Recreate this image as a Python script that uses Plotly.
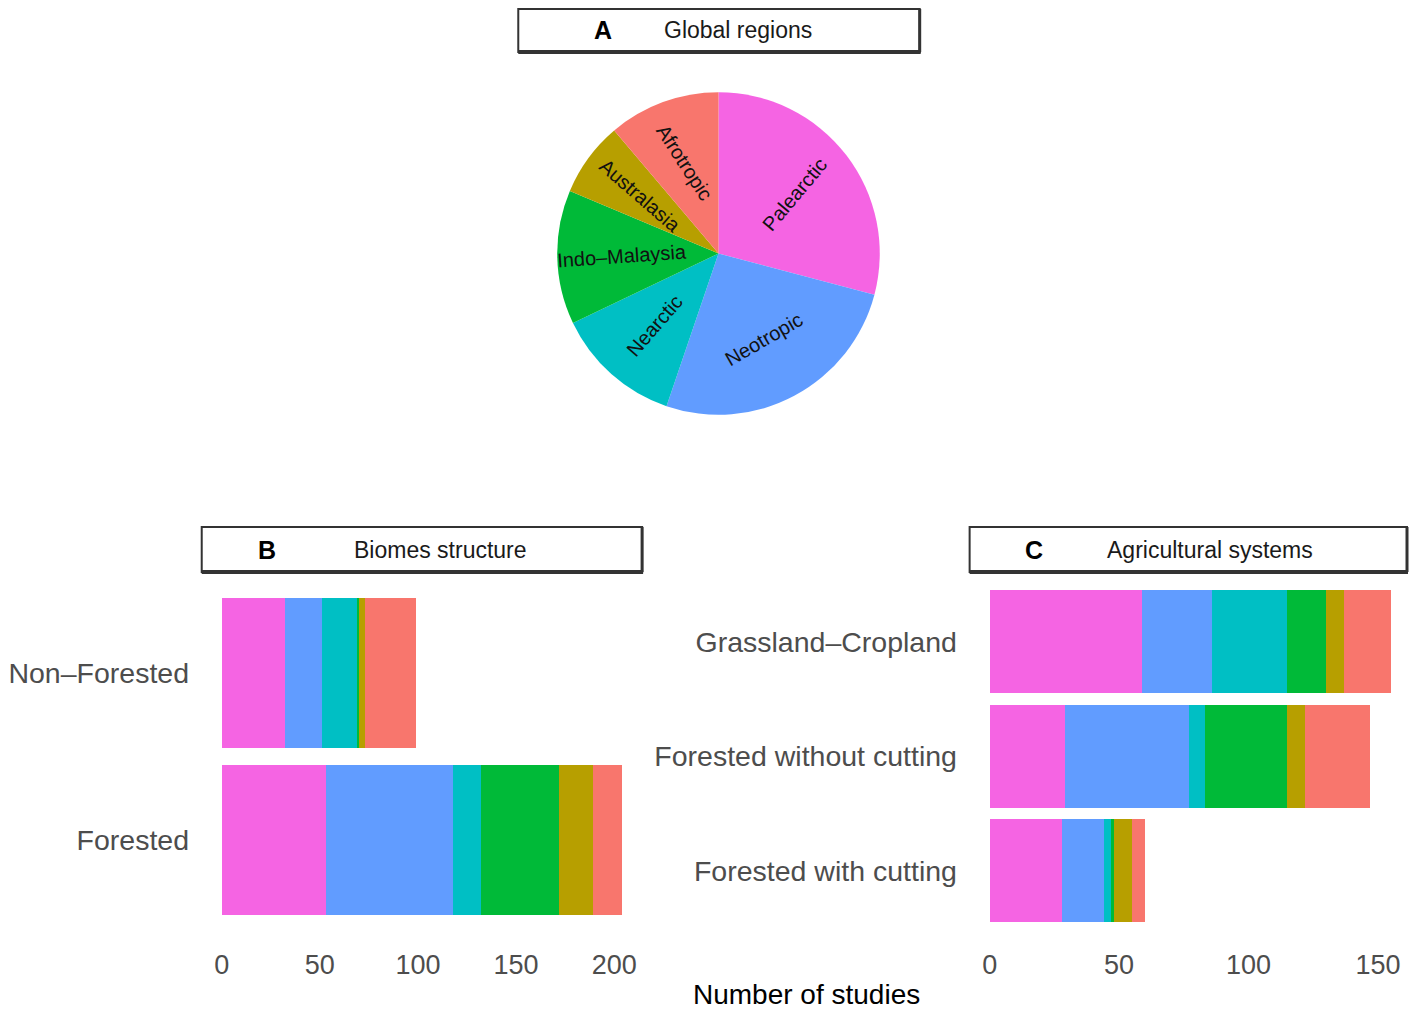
import math
import plotly.graph_objects as go

# ---------------- data ----------------
regions = ["Palearctic", "Neotropic", "Nearctic", "Indo–Malaysia", "Australasia", "Afrotropic"]
region_colors = ["#F564E3", "#619CFF", "#00BFC4", "#00BA38", "#B79F00", "#F8766D"]

pie_counts = [39, 35, 17, 18, 10, 15]

biome_categories = ["Forested", "Non–Forested"]          # bottom -> top
biome_forested = [53, 65, 14, 40, 17, 15]
biome_nonforested = [32, 19, 18, 1, 3, 26]

agri_categories = ["Forested with cutting", "Forested without cutting", "Grassland–Cropland"]  # bottom -> top
agri_with_cutting = [28, 16, 3, 1, 7, 5]
agri_without_cutting = [29, 48, 6, 32, 7, 25]
agri_grassland = [59, 27, 29, 15, 7, 18]

x_ticks_b = [0, 50, 100, 150, 200]
x_ticks_c = [0, 50, 100, 150]

# ---------------- layout constants ----------------
WIN_W, WIN_H = 1417, 1018
BODY = 8                      # default page margin around the figure
W, H = WIN_W - 2 * BODY, WIN_H - 2 * BODY
FONT = "Liberation Sans, Arial, Helvetica, sans-serif"
TICK_COLOR = "#4D4D4D"

def px_x(p):
    return min(1.0, max(0.0, (p - BODY) / W))

def px_y(p):
    return min(1.0, max(0.0, 1 - (p - BODY) / H))

pie_cx, pie_cy, pie_r = 717.5, 253.5, 161.5
label_r = 0.6 * pie_r
pie_label_angles = [-50, -30, -49, -4, 41, 57]   # style: text rotation of each slice label

fig = go.Figure()

# ---------------- pie (A) ----------------
fig.add_trace(go.Pie(
    labels=regions,
    values=pie_counts,
    marker=dict(colors=region_colors, line=dict(width=0)),
    sort=False,
    direction="clockwise",
    rotation=0,
    textinfo="none",
    hoverinfo="label+value",
    showlegend=False,
    domain=dict(x=[px_x(pie_cx - pie_r), px_x(pie_cx + pie_r)],
                y=[px_y(pie_cy + pie_r), px_y(pie_cy - pie_r)]),
))

total = sum(pie_counts)
cum = 0
annotations = []
for name, v, ang in zip(regions, pie_counts, pie_label_angles):
    mid = (cum + v / 2) / total * 2 * math.pi
    cum += v
    lx = pie_cx + label_r * math.sin(mid)
    ly = pie_cy - label_r * math.cos(mid)
    annotations.append(dict(
        x=px_x(lx), y=px_y(ly), xref="paper", yref="paper",
        text=name, showarrow=False, textangle=ang,
        font=dict(family=FONT, size=20, color="#111111"),
        xanchor="center", yanchor="middle",
    ))

# ---------------- bars (B) ----------------
for i, name in enumerate(regions):
    fig.add_trace(go.Bar(
        y=biome_categories,
        x=[biome_forested[i], biome_nonforested[i]],
        orientation="h",
        marker=dict(color=region_colors[i], line=dict(width=0)),
        name=name, showlegend=False,
        xaxis="x", yaxis="y",
    ))

# ---------------- bars (C) ----------------
for i, name in enumerate(regions):
    fig.add_trace(go.Bar(
        y=agri_categories,
        x=[agri_with_cutting[i], agri_without_cutting[i], agri_grassland[i]],
        orientation="h",
        marker=dict(color=region_colors[i], line=dict(width=0)),
        name=name, showlegend=False,
        xaxis="x2", yaxis="y2",
    ))

panel_top, panel_bottom = 573, 939.5
b_left, b_right = 200, 641
c_left, c_right = 969, 1409

common_x = dict(showgrid=False, zeroline=False, showline=False,
                ticks="outside", ticklen=1, tickcolor="rgba(0,0,0,0)",
                tickfont=dict(family=FONT, size=27, color=TICK_COLOR),
                fixedrange=True)
common_y = dict(showgrid=False, zeroline=False, showline=False,
                ticks="outside", ticklen=6, tickcolor="rgba(0,0,0,0)",
                tickfont=dict(family=FONT, size=28.5, color=TICK_COLOR),
                type="category", fixedrange=True)

fig.update_layout(
    width=W, height=H,
    margin=dict(l=0, r=0, t=0, b=0),
    paper_bgcolor="white", plot_bgcolor="white",
    barmode="stack", bargap=0.1,
    xaxis=dict(domain=[px_x(b_left), px_x(b_right)], range=[-10.2, 214.2],
               tickvals=x_ticks_b, anchor="y", **common_x),
    yaxis=dict(domain=[px_y(panel_bottom), px_y(panel_top)], range=[-0.6, 1.6],
               categoryorder="array", categoryarray=biome_categories,
               anchor="x", **common_y),
    xaxis2=dict(domain=[px_x(c_left), px_x(c_right)], range=[-7.75, 162.0],
                tickvals=x_ticks_c, anchor="y2", **common_x),
    yaxis2=dict(domain=[px_y(panel_bottom), px_y(panel_top)], range=[-0.6, 2.6],
                categoryorder="array", categoryarray=agri_categories,
                anchor="x2", **common_y),
    font=dict(family=FONT),
)

# ---------------- title strips ----------------
shapes = []
strips = [
    # (left, right, top, bottom, letter, letter_x, title, title_x)
    (517, 919, 9, 52, "A", 602, "Global regions", 737),
    (200, 641, 527, 572, "B", 265, "Biomes structure", 439),
    (969, 1407, 527, 572, "C", 1033, "Agricultural systems", 1209.5),
]
for l, r, t, b, letter, lx, title, tx in strips:
    shapes.append(dict(type="rect", xref="paper", yref="paper",
                       x0=px_x(l), x1=px_x(r), y0=px_y(b), y1=px_y(t),
                       line=dict(color="#333333", width=2), fillcolor="white", layer="above"))
    shapes.append(dict(type="line", xref="paper", yref="paper",
                       x0=px_x(l), x1=px_x(r + 1), y0=px_y(b), y1=px_y(b),
                       line=dict(color="#333333", width=4), layer="above"))
    shapes.append(dict(type="line", xref="paper", yref="paper",
                       x0=px_x(r), x1=px_x(r), y0=px_y(b), y1=px_y(t),
                       line=dict(color="#333333", width=3), layer="above"))
    cy = (t + b) / 2
    annotations.append(dict(x=px_x(lx), y=px_y(cy), xref="paper", yref="paper",
                            text="<b>%s</b>" % letter, showarrow=False,
                            font=dict(family=FONT, size=25, color="black"),
                            xanchor="center", yanchor="middle"))
    annotations.append(dict(x=px_x(tx), y=px_y(cy), xref="paper", yref="paper",
                            text=title, showarrow=False,
                            font=dict(family=FONT, size=23, color="#1a1a1a"),
                            xanchor="center", yanchor="middle"))

# shared x-axis title
annotations.append(dict(x=px_x(806), y=px_y(994), xref="paper", yref="paper",
                        text="Number of studies", showarrow=False,
                        font=dict(family=FONT, size=28, color="black"),
                        xanchor="center", yanchor="middle"))

fig.update_layout(shapes=shapes, annotations=annotations)

fig.write_html("out.html")
